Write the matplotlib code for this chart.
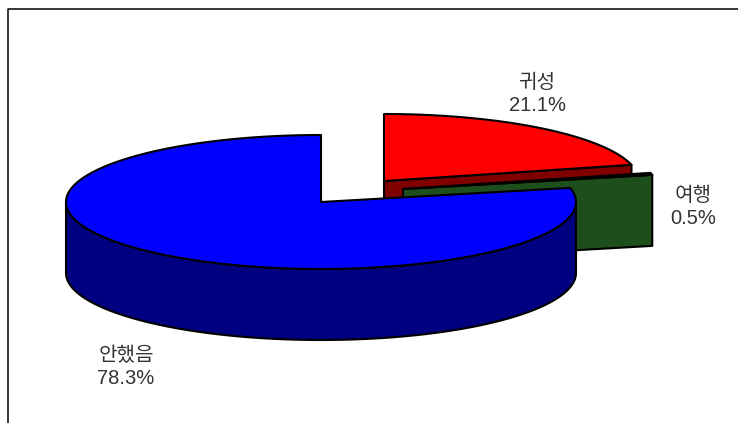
import numpy as np
import matplotlib
matplotlib.use('Agg')
import matplotlib.pyplot as plt

plt.rcParams['font.family'] = ['Liberation Sans', 'Noto Sans CJK KR']

# ----- Data -----
labels = ['귀성', '여행', '안했음']
values = [21.1, 0.5, 78.3]

# ----- Style -----
colTop = ['#ff0000', '#1c4f1c', '#0000ff']
colSide = ['#800000', '#1c4f1c', '#000080']
centers = [(384, 181), (403, 189), (321, 202)]  # exploded slices, pixels
labelPos = [(537, 94), (693, 207), (126, 367)]
rx = 255
ry = 67
depth = 71
lw = 1.5

fig = plt.figure(figsize=(7.38, 4.23), dpi=100)
ax = fig.add_axes([0, 0, 1, 1])
ax.set_xlim(0, 738)
ax.set_ylim(423, 0)
ax.axis('off')

# frame, only top and left are visible
ax.plot([8, 8, 738], [423, 9, 9], color='black', lw=1.1, solid_capstyle='butt')


def rim(c, a0, a1):
    th = np.radians(np.linspace(a0, a1, 200))
    return c[0] + rx*np.cos(th), c[1] - ry*np.sin(th)


# slices run clockwise from 12 o'clock
total = sum(values)
a = 90.0
for i in range(len(values)):
    a0 = a
    a1 = a - 360*values[i]/total
    a = a1
    c = centers[i]

    if i < 2:
        # cut face toward the viewer
        xe, ye = rim(c, a1, a1)
        ax.fill([c[0], xe[0], xe[0], c[0]], [c[1], ye[0], ye[0] + depth, c[1] + depth],
                fc=colSide[i], ec='black', lw=lw, joinstyle='round')
    else:
        # outer wall of the big slice, front half only
        xw, yw = rim(c, -180, 0)
        ax.fill(np.r_[xw, xw[::-1]], np.r_[yw, yw[::-1] + depth],
                fc=colSide[i], ec='black', lw=lw, joinstyle='round')

    xr, yr = rim(c, a0, a1)
    ax.fill(np.r_[c[0], xr], np.r_[c[1], yr],
            fc=colTop[i], ec='black', lw=lw, joinstyle='round')

    ax.text(labelPos[i][0], labelPos[i][1], '%s\n%.1f%%' % (labels[i], values[i]),
            ha='center', va='center', fontsize=14.5, color='#333333', linespacing=1.28)

fig.savefig('out.png', dpi=100)
